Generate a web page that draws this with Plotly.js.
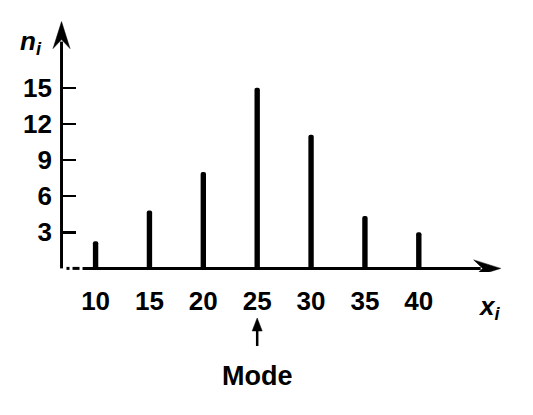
<!DOCTYPE html>
<html>
<head>
<meta charset="utf-8">
<script src="https://cdn.plot.ly/plotly-3.0.1.min.js"></script>
<style>
  html, body { margin: 0; padding: 0; background: #fff; }
  #chart { width: 533px; height: 415px; }
</style>
</head>
<body>
<div id="chart"></div>
<script>
// Data
var xValues = [10, 15, 20, 25, 30, 35, 40];
var counts = [2.25, 4.8, 8, 15, 11.1, 4.35, 3];
var xTickLabels = ['10', '15', '20', '25', '30', '35', '40'];
var yTickValues = [3, 6, 9, 12, 15];
var yTickLabels = ['3', '6', '9', '12', '15'];
var modeValue = 25;

// Layout geometry
var W = 533, H = 415;
var M = {l: 50, r: 28, t: 18, b: 143};
var xStart = 5.77, xOrigin = 6.84, xTip = 47.6, xEnd = 48;
var yTip = 20.5, yStart = -0.3, yEnd = 20.8;
var plotW = W - M.l - M.r, plotH = H - M.t - M.b;
function pxX(px) { return (px - M.l) / plotW; }
function pxY(py) { return (H - M.b - py) / plotH; }
// pixel offsets -> data units
var dxU = (xEnd - xStart) / plotW, dyU = (yEnd - yStart) / plotH;
function P(x, y) { return x + ',' + y; }

var xHead = 'M' + P(xTip, 0) +
  ' L' + P(xTip - 27 * dxU, 8.5 * dyU) +
  ' L' + P(xTip - 18 * dxU, 0) +
  ' L' + P(xTip - 27 * dxU, -8.5 * dyU) + ' Z';
var yHead = 'M' + P(xOrigin, yTip) +
  ' L' + P(xOrigin - 8.5 * dxU, yTip - 27 * dyU) +
  ' L' + P(xOrigin, yTip - 18 * dyU) +
  ' L' + P(xOrigin + 8.5 * dxU, yTip - 27 * dyU) + ' Z';

var fontFam = '"Liberation Sans", Arial, Helvetica, sans-serif';

var trace = {
  type: 'bar',
  x: xValues,
  y: counts,
  width: 0.5,
  marker: {color: '#000', line: {width: 0}, cornerradius: 2},
  hoverinfo: 'x+y'
};

var axisLine = {color: '#000', width: 3};
var blk = {color: '#000', width: 0.5};

var layout = {
  width: W, height: H,
  margin: M,
  paper_bgcolor: '#fff',
  plot_bgcolor: '#fff',
  showlegend: false,
  font: {family: fontFam, color: '#000'},
  xaxis: {
    range: [xStart, xEnd],
    showgrid: false, zeroline: false, showline: false,
    tickmode: 'array', tickvals: xValues, ticktext: xTickLabels,
    ticks: '',
    ticklabelstandoff: 11,
    tickfont: {family: fontFam, size: 26, color: '#000', weight: 'bold'},
    fixedrange: true
  },
  yaxis: {
    range: [yStart, yEnd],
    anchor: 'free', position: pxX(62),
    showgrid: false, zeroline: false, showline: false,
    tickmode: 'array', tickvals: yTickValues, ticktext: yTickLabels,
    ticks: 'inside', ticklen: 13, tickwidth: 2.5, tickcolor: '#000',
    ticklabelstandoff: 10,
    tickfont: {family: fontFam, size: 26, color: '#000', weight: 'bold'},
    fixedrange: true
  },
  shapes: [
    // dashed start of x axis
    {type: 'line', xref: 'x', yref: 'y', x0: 7.3, x1: 7.58, y0: 0, y1: 0, line: axisLine},
    {type: 'line', xref: 'x', yref: 'y', x0: 7.86, x1: 8.51, y0: 0, y1: 0, line: axisLine},
    // solid x axis
    {type: 'line', xref: 'x', yref: 'y', x0: 8.79, x1: xTip - 20 * dxU, y0: 0, y1: 0, line: axisLine},
    // x axis arrow head
    {type: 'path', xref: 'x', yref: 'y', path: xHead, fillcolor: '#000', line: blk},
    // y axis
    {type: 'line', xref: 'x', yref: 'y', x0: xOrigin, x1: xOrigin, y0: 0, y1: yTip - 20 * dyU, line: axisLine},
    // y axis arrow head
    {type: 'path', xref: 'x', yref: 'y', path: yHead, fillcolor: '#000', line: blk},
    // mode arrow
    {type: 'line', xref: 'x', yref: 'paper', x0: modeValue, x1: modeValue,
     y0: pxY(346), y1: pxY(326), line: {color: '#000', width: 2.5}},
    {type: 'path', xref: 'x', yref: 'paper',
     path: 'M' + P(modeValue, pxY(318)) + ' L' + P(modeValue - 5 * dxU, pxY(331)) +
           ' L' + P(modeValue + 5 * dxU, pxY(331)) + ' Z',
     fillcolor: '#000', line: blk}
  ],
  annotations: [
    {xref: 'paper', yref: 'paper', x: pxX(31), y: pxY(42), xanchor: 'center', yanchor: 'middle',
     text: '<i><b>n</b><sub>i</sub></i>', showarrow: false,
     font: {family: fontFam, size: 26, color: '#000', weight: 'bold'}},
    {xref: 'paper', yref: 'paper', x: pxX(489), y: pxY(307), xanchor: 'center', yanchor: 'middle',
     text: '<i><b>x</b><sub>i</sub></i>', showarrow: false,
     font: {family: fontFam, size: 26, color: '#000', weight: 'bold'}},
    {xref: 'x', yref: 'paper', x: modeValue, y: pxY(376), xanchor: 'center', yanchor: 'middle',
     text: '<b>Mode</b>', showarrow: false,
     font: {family: fontFam, size: 27, color: '#000'}}
  ]
};

Plotly.newPlot('chart', [trace], layout, {displayModeBar: false, staticPlot: true});
</script>
</body>
</html>
